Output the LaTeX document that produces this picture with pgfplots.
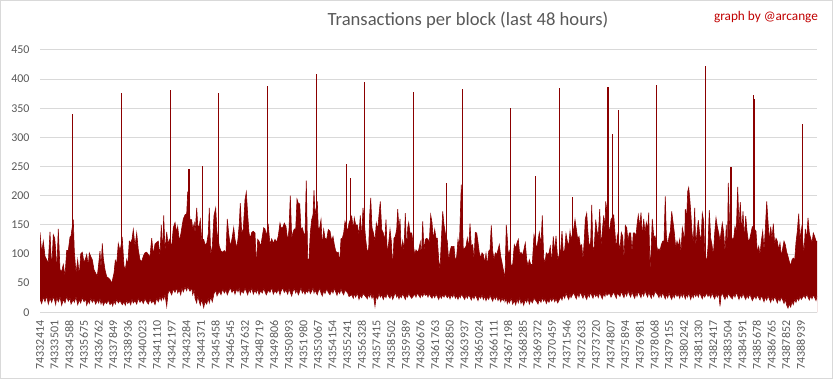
\documentclass[border=0pt]{standalone}
\usepackage{pgfplots}
\usepackage{pgfplotstable}
\usepackage{fontspec}
\setmainfont{Carlito}
\pgfplotsset{compat=1.18}
\definecolor{dred}{RGB}{139,0,0}
\definecolor{gridgray}{RGB}{217,217,217}
\definecolor{labelgray}{RGB}{89,89,89}
\definecolor{credit}{RGB}{192,0,0}

\pgfplotstableread{
p lo hi
0 22 137
1.7 15 102
3.3 26 122
5 18 96
6.7 28 90
8.3 14 85
10 24 138
11.7 17 73
13.3 27 133
14.7 20 127
15.7 13 107
16.7 25 67
18.3 18 143
20 26 73
21.7 12 70
23.3 22 82
25 16 62
26.7 27 106
28.3 19 106
30 24 129
31 14 131
33.3 22 159
34.3 17 105
36 26 67
37.7 13 90
39.3 21 62
40.7 16 100
42.3 25 103
44 18 85
45.7 23 93
46.7 12 99
48.3 20 79
49.3 15 102
50.7 24 96
52.3 17 90
54 22 73
55.7 14 67
57.3 21 62
58.7 16 83
60 23 105
61 14 73
62.3 20 118
63.3 12 93
65 18 73
66.7 15 61
68.3 21 59
70 13 56
71.7 17 50
72.7 11 57
74 19 67
75.3 14 89
76.7 22 83
78.3 16 118
80 20 105
82.3 13 126
84 18 79
85.3 12 73
86.7 21 90
87.7 15 79
89.3 19 122
90.7 13 119
92 22 125
93.3 16 142
95 20 113
96.7 14 136
98.3 24 107
100 17 90
101.7 21 87
103.3 15 96
105 23 102
106.7 18 103
108.3 14 99
110 22 95
111.7 16 127
113.3 20 99
115 13 117
116.7 24 120
118.3 18 122
120 26 96
121.3 20 150
122.7 28 102
123.7 22 166
125 30 105
126.7 10 138
128 32 116
129.3 38 125
131.7 30 113
133.3 40 145
135 34 154
136.7 42 137
137.7 33 147
139.3 38 122
140.7 30 133
142 41 147
143.3 35 160
145 43 167
146.7 37 169
147.7 44 207
150 36 159
151.7 42 159
152.7 30 142
154.3 38 153
155 24 133
156.7 16 179
157.7 28 150
159 20 145
160.3 12 159
161.7 22 125
163.7 8 125
165 18 116
166.7 14 118
168.3 24 135
169.3 16 179
170.7 26 99
172.3 18 113
174 32 166
175.7 38 179
177 28 137
179.3 36 113
181 30 105
182.7 40 103
184.3 33 106
186 38 102
187.3 30 160
188.7 36 135
190.3 42 113
192 34 126
193.7 39 145
195 31 125
196.7 40 110
198 35 126
199.3 42 152
200.3 30 187
201.7 37 136
203.3 33 143
205 41 193
206.3 36 206
207.7 30 167
209 39 136
210.3 34 127
211.7 42 137
213.3 31 139
215 38 136
216.3 33 79
217.7 40 125
219 30 122
220.7 37 113
222.3 33 130
223.7 41 145
225 35 143
226.3 30 131
228.3 38 149
230 34 116
231.7 42 126
233.3 31 118
235 37 125
236.7 33 120
238.3 40 131
240 30 153
241 36 145
242.7 42 145
244.3 34 153
246 38 147
247.7 31 122
249 40 142
250.3 34 200
251.7 28 127
253 36 137
254.3 41 143
255.7 33 142
257 38 194
258.3 30 187
259.7 36 186
261 42 142
262.3 33 145
263.7 38 136
265 31 131
266.3 37 226
267.7 34 91
269 40 91
270.3 32 136
271.7 36 159
273 42 167
274 33 209
275 38 166
277.3 30 190
278.3 36 142
279.7 41 145
281 33 159
282.3 28 113
283.7 37 142
285 32 127
286.7 40 125
288.3 34 142
290 30 139
291.7 38 122
293 33 130
294.3 41 116
295.7 35 105
297 29 102
298.3 37 103
299.7 32 85
301 40 126
302.3 34 127
303.7 30 136
305 38 156
307.7 33 139
309 27 153
311.7 30 165
313.3 24 142
314.3 32 162
315.7 26 150
317.3 33 150
319 22 133
320.3 29 166
321.7 25 127
323 32 179
325.7 27 125
327.3 23 102
328.7 31 110
329.7 26 167
330.7 33 196
332 24 145
333.3 30 137
335 10 122
336.3 28 153
337.7 23 142
339 32 167
340.3 26 190
341.7 30 142
343.3 22 136
344.7 29 122
346 25 159
347.3 33 99
348.7 27 119
350 24 142
351.3 31 122
352.7 22 76
354 28 127
355.3 34 130
356.7 26 142
357.7 30 177
359 23 142
360 29 160
361.3 25 102
362.7 32 122
364 27 105
365.3 22 170
366.7 30 102
367.7 26 145
368.7 33 154
370 28 136
371.7 24 136
374.7 31 99
376 26 107
377.3 33 103
378.7 29 107
380.3 25 120
381.3 32 90
382.7 27 156
384 33 105
385.3 29 125
386.7 31 127
388 26 125
389.3 32 120
390.7 27 167
392 24 154
393.3 30 125
394.7 25 142
396 31 127
397.3 27 127
398.7 22 90
400 29 73
401.3 24 122
402.7 30 173
404 26 150
405.3 31 136
407.3 25 122
408.7 29 87
410 23 105
411.3 30 113
412.7 26 113
414 32 113
415.3 24 87
416.7 28 96
418 22 125
419.3 29 110
420.3 25 165
421.3 31 219
423.3 26 107
424.7 22 110
426 29 113
427.3 24 127
428.7 30 110
430 26 152
431.3 21 113
432.7 28 116
434 23 90
435.3 30 137
436.7 25 136
438 20 120
439.3 28 102
440.7 24 93
442 30 102
443.3 22 99
444.7 27 85
446 20 101
447.3 26 79
448.7 22 105
450 29 107
451.3 24 149
452.7 19 105
454 27 90
455.3 22 102
456.7 28 99
458 20 107
459.3 25 116
460.7 18 96
462 24 85
463.3 20 73
464.7 26 62
465 18 59
466.3 23 150
467.3 15 127
468.3 21 96
469.3 16 105
471.3 24 79
472.7 14 82
474.3 20 116
475.7 13 110
477 22 119
478.3 16 125
479.7 25 99
481 15 103
482.3 20 97
483.7 12 106
485.3 22 119
486.7 17 90
488 24 79
489.3 14 90
490.7 21 82
492.3 16 82
494 24 133
496.7 18 109
498 14 122
499.3 22 137
501 17 116
502.3 25 166
503.7 19 93
505 23 85
506.3 15 102
507.7 21 99
509 17 102
510.3 24 113
511.7 19 85
513.3 25 130
514.7 18 103
516 23 131
517.7 16 90
520.7 26 107
522 21 139
523.3 30 102
524.7 24 107
526 33 135
527.3 27 122
528.7 22 113
530 31 139
531 25 125
533.7 34 143
535 28 159
536.3 23 143
537.7 32 125
539 26 130
540.3 35 113
541.7 29 116
543 24 90
544.3 33 125
545.3 27 160
546.7 22 170
548 31 136
549.3 26 110
550.7 35 122
551.7 29 184
553 24 107
554.3 33 113
555.7 27 159
557 31 139
558.3 25 130
559.7 34 177
561 28 113
562.3 23 139
563.7 32 166
565 27 142
565.7 35 190
567 29 173
569.3 33 136
571 26 159
573.7 35 167
575 29 136
576.3 24 105
577.3 33 133
580 27 107
581.3 36 137
582.7 30 130
584 25 90
585.3 34 149
586.7 28 145
588 37 122
589.3 31 136
590.7 26 136
592 35 102
593.3 29 136
594.7 24 136
596 33 130
597 27 150
598.3 36 167
599.7 30 147
601 25 171
602.3 34 130
603.7 28 160
605 37 136
606.3 31 154
607.7 26 142
608.7 35 171
610 29 70
611.3 24 116
612.3 33 160
613.7 27 130
615 36 131
617.7 30 105
619 25 109
620 32 105
621.3 26 116
622.7 34 122
624 28 122
625.3 23 199
626.3 31 133
627.7 25 113
629 33 130
630.3 27 139
631.7 22 173
633 30 155
634.3 25 137
635.7 33 110
637 27 122
638.3 31 113
639.7 24 125
641 32 102
642.3 26 145
643.7 34 133
644.3 28 85
645.3 23 177
646.7 31 162
647.7 26 207
648.7 34 214
649.7 28 196
650.7 22 173
652 30 136
653.3 25 119
654.7 33 179
655.7 27 113
657 32 136
658.3 26 158
659.7 34 133
661 28 122
662.3 23 170
663.7 31 156
664.7 26 105
666.7 33 85
668 27 113
669.3 31 175
670.7 25 127
672 33 116
673.3 28 96
674.7 23 136
676 31 162
677.3 26 147
678.7 34 136
680 10 122
681 28 136
682.3 33 153
683.7 27 136
685 22 102
686.3 30 150
687.3 25 93
688.3 33 222
689.7 28 142
692.3 23 125
693.7 31 127
695 26 147
696.3 34 139
697.7 28 215
699 22 145
700.3 30 189
701.7 25 136
703 32 173
704.3 27 125
705.7 22 165
707 29 139
708.3 24 122
709.7 31 125
711 26 136
712.3 20 147
714.7 28 142
716 23 139
717.3 30 102
718.7 25 113
720 21 99
721.3 28 122
722.7 24 139
724 18 105
725.3 26 142
726.7 21 190
728 28 156
729.3 23 122
730.7 17 147
732 25 125
733.3 20 152
734.7 27 116
736 22 127
737.3 16 122
738.7 24 107
740 19 119
741.3 26 96
742.7 21 110
744 15 122
745.3 22 116
746.7 12 103
748 7 96
749.3 14 87
750.7 9 80
752 18 90
753.3 13 93
754.7 22 90
756 17 120
757.3 25 139
758.7 20 169
760 27 122
761.3 22 145
764 29 102
765.3 24 143
766.7 31 125
768 26 162
769.3 21 136
770.7 28 127
772 23 119
773.3 30 136
774.7 25 130
776 20 122
777 28 122
}\envelope

\pgfplotstableread{
p v
32.3 340
81.3 376
130.3 382
149 245
162.3 251
178.3 376
227.3 388
276.3 409
306.3 255
310.3 230
324.3 395
373.3 378
406.3 222
422.3 383
470.3 351
495.3 234
519.3 385
532.3 198
568 386
572.3 306
578.7 347
616.3 390
665.3 422
691 249
713.3 373
714 365
762.7 323
}\spikes

\begin{document}
\begin{tikzpicture}
\useasboundingbox (0,0) rectangle (833bp,379bp);
\draw[gridgray, line width=0.8bp] (0.5bp,0.5bp) rectangle (832.5bp,378.5bp);
\begin{axis}[
  at={(40bp,66.7bp)}, anchor=south west,
  scale only axis, width=777bp, height=262.4bp,
  xmin=0, xmax=777, ymin=0, ymax=450,
  ytick={0,50,...,450},
  ymajorgrids, grid style={draw=gridgray, line width=0.8bp},
  axis line style={draw=none},
  major tick length=0pt,
  xtick={0,14.63,...,761},
  xticklabels={74332414,74333501,74334588,74335675,74336762,74337849,74338936,74340023,74341110,74342197,74343284,74344371,74345458,74346545,74347632,74348719,74349806,74350893,74351980,74353067,74354154,74355241,74356328,74357415,74358502,74359589,74360676,74361763,74362850,74363937,74365024,74366111,74367198,74368285,74369372,74370459,74371546,74372633,74373720,74374807,74375894,74376981,74378068,74379155,74380242,74381330,74382417,74383504,74384591,74385678,74386765,74387852,74388939},
  tick label style={font=\fontsize{12}{14}\selectfont, text=labelgray},
  xticklabel style={yshift=-5bp, rotate=90, anchor=east},
  yticklabel style={anchor=east, xshift=-7bp},
  /pgf/number format/assume math mode=true,
]
\addplot[fill=dred, draw=none] table[x=p, y=hi] {\envelope} \closedcycle;
\addplot[dred, line width=0.6bp] table[x=p, y=hi] {\envelope};
\addplot[ycomb, dred, line width=1.2bp, mark=none] table[x=p, y=v] {\spikes};
\addplot[fill=white, draw=none] table[x=p, y=lo] {\envelope} \closedcycle;
\addplot[dred, line width=0.6bp] table[x=p, y=lo] {\envelope};
\addplot[gridgray, line width=0.8bp] coordinates {(0,0) (777,0)};
\end{axis}
\node[text=labelgray, font=\fontsize{18.7}{22}\selectfont] at (468bp,359bp) {Transactions per block (last 48 hours)};
\node[text=credit, font=\fontsize{13.3}{16}\selectfont] at (766bp,362bp) {graph by @arcange};
\end{tikzpicture}
\end{document}
